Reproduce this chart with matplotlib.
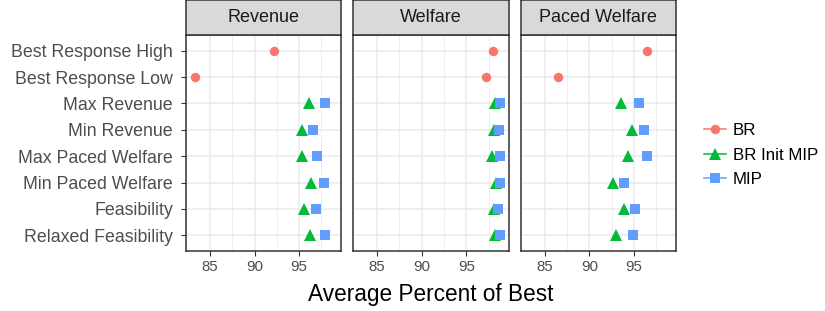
import matplotlib
matplotlib.use("Agg")
import matplotlib.pyplot as plt
from matplotlib.lines import Line2D
import numpy as np

plt.rcParams['font.family'] = ['Liberation Sans', 'DejaVu Sans']

# categories, top to bottom
categories = ['Best Response High', 'Best Response Low', 'Max Revenue', 'Min Revenue',
              'Max Paced Welfare', 'Min Paced Welfare', 'Feasibility', 'Relaxed Feasibility']
panels = ['Revenue', 'Welfare', 'Paced Welfare']

# BR only has the two best response rows
br_cats = ['Best Response High', 'Best Response Low']
br = {
    'Revenue': [92.2, 83.3],
    'Welfare': [98.0, 97.2],
    'Paced Welfare': [96.5, 86.5],
}
mip_cats = categories[2:]
br_init_mip = {
    'Revenue': [96.1, 95.3, 95.3, 96.3, 95.5, 96.2],
    'Welfare': [98.2, 98.1, 97.9, 98.3, 98.1, 98.2],
    'Paced Welfare': [93.5, 94.8, 94.3, 92.7, 93.9, 93.0],
}
mip = {
    'Revenue': [97.9, 96.6, 97.0, 97.8, 96.9, 97.9],
    'Welfare': [98.7, 98.6, 98.7, 98.7, 98.5, 98.7],
    'Paced Welfare': [95.6, 96.1, 96.4, 93.9, 95.1, 94.9],
}

col_br = '#F8766D'
col_init = '#00BA38'
col_mip = '#619CFF'

W, H = 825, 311
fig = plt.figure(figsize=(W / 100, H / 100), dpi=100)

ypos = {c: len(categories) - i for i, c in enumerate(categories)}
panel_x = [(186, 341), (352.5, 508.5), (520.5, 676)]
top, bottom, strip_top = 35, 251, 0

for k, (name, (x0, x1)) in enumerate(zip(panels, panel_x)):
    ax = fig.add_axes([x0 / W, (H - bottom) / H, (x1 - x0) / W, (bottom - top) / H])
    ax.set_xlim(82.3, 99.7)
    ax.set_ylim(0.4, 8.6)
    ax.set_xticks([85, 90, 95])
    ax.set_xticks([87.5, 92.5, 97.5], minor=True)
    ax.set_yticks([ypos[c] for c in categories])
    ax.grid(which='major', color='#EBEBEB', linewidth=1.1, zorder=0)
    ax.grid(which='minor', axis='x', color='#EBEBEB', linewidth=0.55, zorder=0)
    ax.set_axisbelow(True)
    for s in ax.spines.values():
        s.set_color('#333333')
        s.set_linewidth(1.1)
    ax.tick_params(which='major', length=3.5, width=0.8, color='#333333',
                   labelsize=10.8, labelcolor='#4D4D4D', pad=3)
    ax.tick_params(which='minor', length=0)
    if k == 0:
        ax.set_yticklabels(categories, fontsize=12.8, color='#4D4D4D')
        ax.tick_params(axis='y', pad=6)
    else:
        ax.tick_params(axis='y', length=0, labelleft=False)

    ax.plot(br[name], [ypos[c] for c in br_cats], 'o', color=col_br,
            markersize=6.8, markeredgewidth=0, zorder=3)
    ax.plot(br_init_mip[name], [ypos[c] for c in mip_cats], '^', color=col_init,
            markersize=8.5, markeredgewidth=0, zorder=3)
    ax.plot(mip[name], [ypos[c] for c in mip_cats], 's', color=col_mip,
            markersize=7.2, markeredgewidth=0, zorder=4)

    sax = fig.add_axes([x0 / W, (H - top) / H, (x1 - x0) / W, (top - strip_top) / H])
    sax.set_facecolor('#D9D9D9')
    sax.set_xticks([])
    sax.set_yticks([])
    for s in sax.spines.values():
        s.set_color('#333333')
        s.set_linewidth(1.1)
    sax.text(0.5, 0.5, name, ha='center', va='center', fontsize=13,
             color='#1A1A1A', transform=sax.transAxes)

fig.text(431 / W, 1 - 295 / H, 'Average Percent of Best', ha='center', va='center',
         fontsize=16.3, color='black')

handles = [
    Line2D([], [], color=col_br, marker='o', markersize=6.8, markeredgewidth=0, linewidth=1.1),
    Line2D([], [], color=col_init, marker='^', markersize=8.5, markeredgewidth=0, linewidth=1.1),
    Line2D([], [], color=col_mip, marker='s', markersize=7.2, markeredgewidth=0, linewidth=1.1),
]
fig.legend(handles, ['BR', 'BR Init MIP', 'MIP'], loc='center left',
           bbox_to_anchor=(704 / W, 1 - 155 / H), frameon=False, fontsize=12.2,
           handlelength=1.3, handletextpad=0.4, labelspacing=0.58, borderaxespad=0,
           borderpad=0)

fig.savefig('out.png', dpi=100)
